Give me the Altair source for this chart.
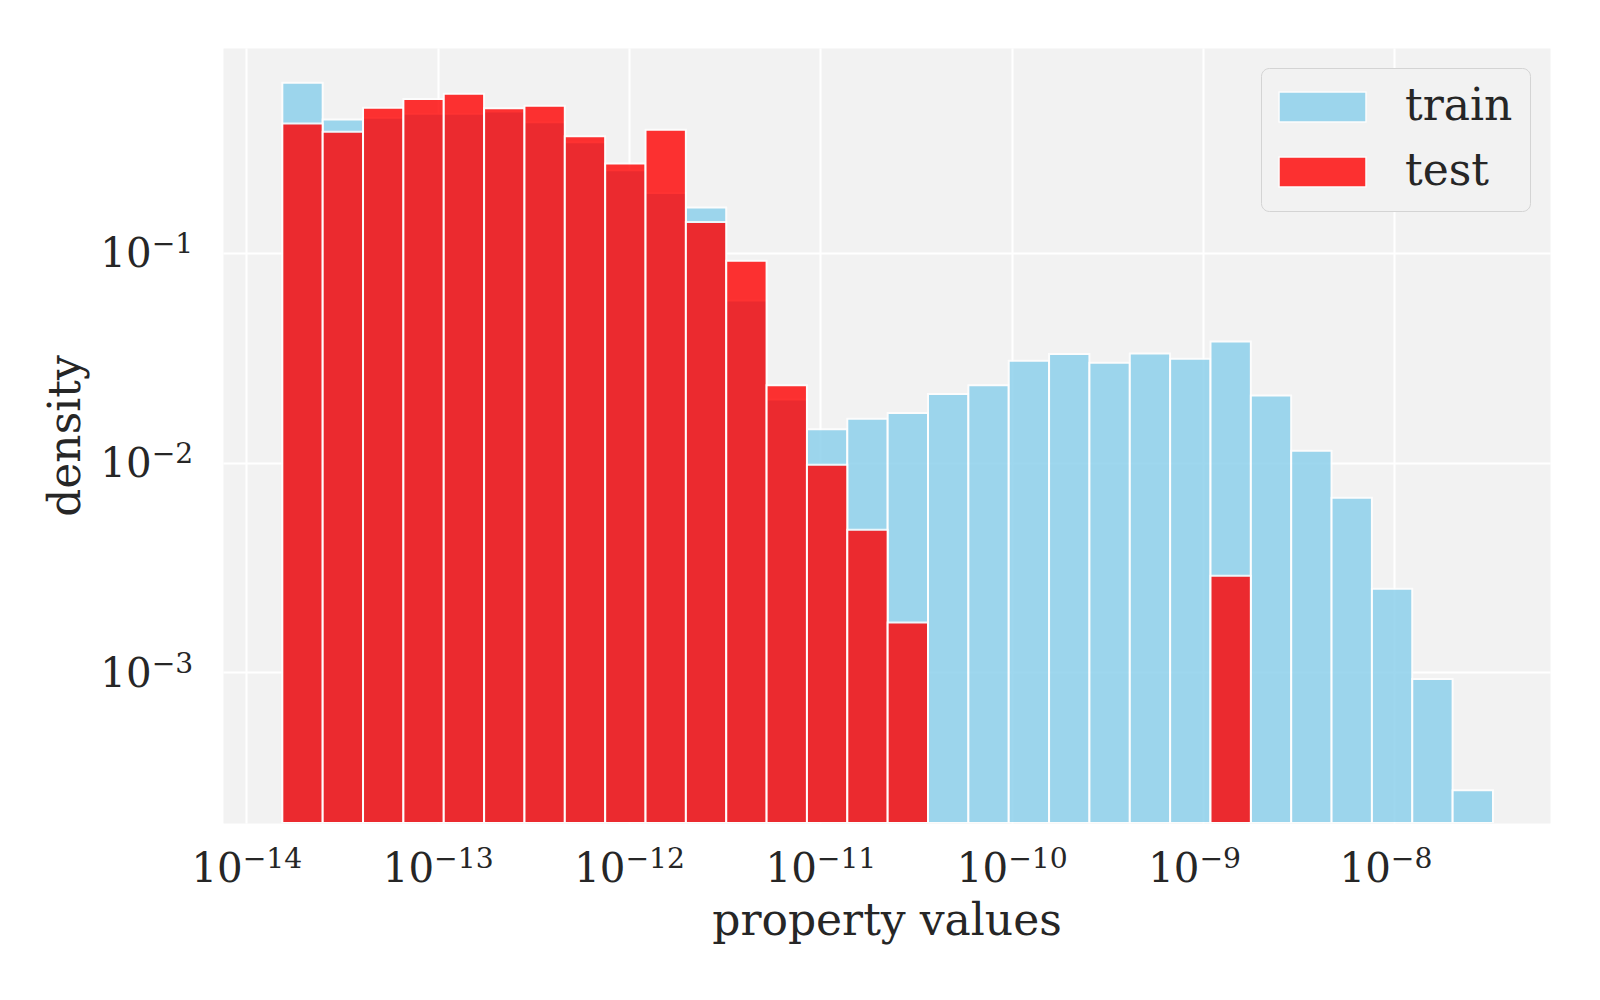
import altair as alt
import numpy as np
import pandas as pd

# ---- data ----
series = ["train", "test"]
series_colors = ["#87ceeb", "#ff0000"]

# histogram bins: 30 equal-width bins in log10 space
log_edge_min = -13.812
log_edge_max = -7.485
n_bins = 30

train_density = [0.648, 0.433, 0.441, 0.461, 0.461, 0.473, 0.420, 0.337, 0.248, 0.193,
                 0.165, 0.0594, 0.0200, 0.01442, 0.01622, 0.01726, 0.02128, 0.02339, 0.03064, 0.03298,
                 0.02999, 0.0332, 0.03133, 0.03785, 0.02089, 0.01141, 0.00681, 0.002506, 0.000931, 0.000274]
test_density = [0.414, 0.379, 0.493, 0.542, 0.575, 0.490, 0.503, 0.360, 0.267, 0.387,
                0.1406, 0.0919, 0.02339, 0.00977, 0.00479, 0.00173, 0, 0, 0, 0,
                0, 0, 0, 0.00289, 0, 0, 0, 0, 0, 0]

x_tick_exponents = [-14, -13, -12, -11, -10, -9, -8]
y_tick_exponents = [-3, -2, -1]
x_domain_log = [-14.122, -7.187]
y_domain_log = [-3.718, -0.0225]

# ---- build table ----
edges = np.logspace(log_edge_min, log_edge_max, n_bins + 1)
rows = []
for name, dens in zip(series, [train_density, test_density]):
    for i, d in enumerate(dens):
        if d > 0:
            rows.append({"lo": edges[i], "hi": edges[i + 1], "density": d, "series": name})
df = pd.DataFrame(rows)

x_ticks = [10.0 ** e for e in x_tick_exponents]
y_ticks = [10.0 ** e for e in y_tick_exponents]
XDOM = [10 ** x_domain_log[0], 10 ** x_domain_log[1]]
YDOM = [10 ** y_domain_log[0], 10 ** y_domain_log[1]]

W, H = 1327, 775
FONT = "DejaVu Serif"
TXT = "#262626"
TICK_FS = 40.3
EXP_FS = 28.2
exp_expr = "'\u2212' + (-round(log(datum.value) / LN10))"

xscale = alt.Scale(type="log", domain=XDOM, nice=False)
yscale = alt.Scale(type="log", domain=YDOM, nice=False)

x_axis_base = alt.Axis(
    orient="bottom", values=x_ticks, labelExpr="'10'", labelFont=FONT, labelFontSize=TICK_FS,
    labelColor=TXT, labelAlign="right", labelOffset=-4.1, labelBaseline="alphabetic", labelPadding=58.4,
    labelFlush=False, labelOverlap=False, ticks=False, tickSize=0, domain=False,
    grid=True, gridColor="white", gridWidth=2,
    title="property values", titleFont=FONT, titleFontSize=44, titleFontWeight="normal",
    titleColor=TXT, titleX=W / 2, titleY=111.7, titleAlign="center", titleBaseline="alphabetic",
)
x_axis_exp = alt.Axis(
    orient="bottom", values=x_ticks, labelExpr=exp_expr, labelFont=FONT, labelFontSize=EXP_FS,
    labelColor=TXT, labelAlign="left", labelOffset=-4.1, labelBaseline="alphabetic", labelPadding=44,
    labelFlush=False, labelOverlap=False, ticks=False, tickSize=0, domain=False, grid=False,
    title=None,
)
y_axis_base = alt.Axis(
    orient="left", values=y_ticks, labelExpr="'10'", labelFont=FONT, labelFontSize=TICK_FS,
    labelColor=TXT, labelAlign="right", labelBaseline="alphabetic", labelOffset=14, labelPadding=71.9,
    labelFlush=False, labelOverlap=False, ticks=False, tickSize=0, domain=False,
    grid=True, gridColor="white", gridWidth=2,
    title="density", titleFont=FONT, titleFontSize=44, titleFontWeight="normal", titleColor=TXT,
    titleX=-144, titleY=H / 2, titleAngle=270, titleAlign="center", titleBaseline="alphabetic",
)
y_axis_exp = alt.Axis(
    orient="left", values=y_ticks, labelExpr=exp_expr, labelFont=FONT, labelFontSize=EXP_FS,
    labelColor=TXT, labelAlign="right", labelBaseline="alphabetic", labelOffset=0, labelPadding=30.3,
    labelFlush=False, labelOverlap=False, ticks=False, tickSize=0, domain=False, grid=False,
    title=None,
)

legend = alt.Legend(
    title=None, orient="top-right", offset=20,
    fillColor="#f2f2f2", strokeColor="#d4d4d4", cornerRadius=8, padding=17,
    symbolType="M-1,-0.345H1V0.345H-1Z", symbolSize=7569, symbolStrokeColor="white",
    symbolStrokeWidth=1.5, symbolOpacity=0.8, clipHeight=44, rowPadding=21,
    labelFont=FONT, labelFontSize=44, labelColor=TXT, labelOffset=38,
)

bars = alt.Chart(df).mark_bar(opacity=0.8, stroke="white", strokeWidth=2, clip=True).encode(
    x=alt.X("lo:Q", scale=xscale, axis=x_axis_base),
    x2="hi:Q",
    y=alt.Y("density:Q", scale=yscale, axis=y_axis_base),
    y2=alt.datum(YDOM[0]),
    color=alt.Color("series:N", scale=alt.Scale(domain=series, range=series_colors), legend=legend),
)

exp_axes = alt.Chart(df).mark_bar(opacity=0).encode(
    x=alt.X("lo:Q", scale=xscale, axis=x_axis_exp),
    x2="hi:Q",
    y=alt.Y("density:Q", scale=yscale, axis=y_axis_exp),
    y2=alt.datum(YDOM[0]),
)

chart = (
    alt.layer(bars, exp_axes)
    .resolve_axis(x="independent", y="independent")
    .properties(width=W, height=H, background="white",
                autosize=alt.AutoSizeParams(type="none"),
                padding={"left": 215, "top": 40, "right": 40, "bottom": 160})
    .configure_view(fill="#f2f2f2", stroke="transparent")
)

chart.save("out.html", embed_options={"renderer": "svg", "actions": False})
